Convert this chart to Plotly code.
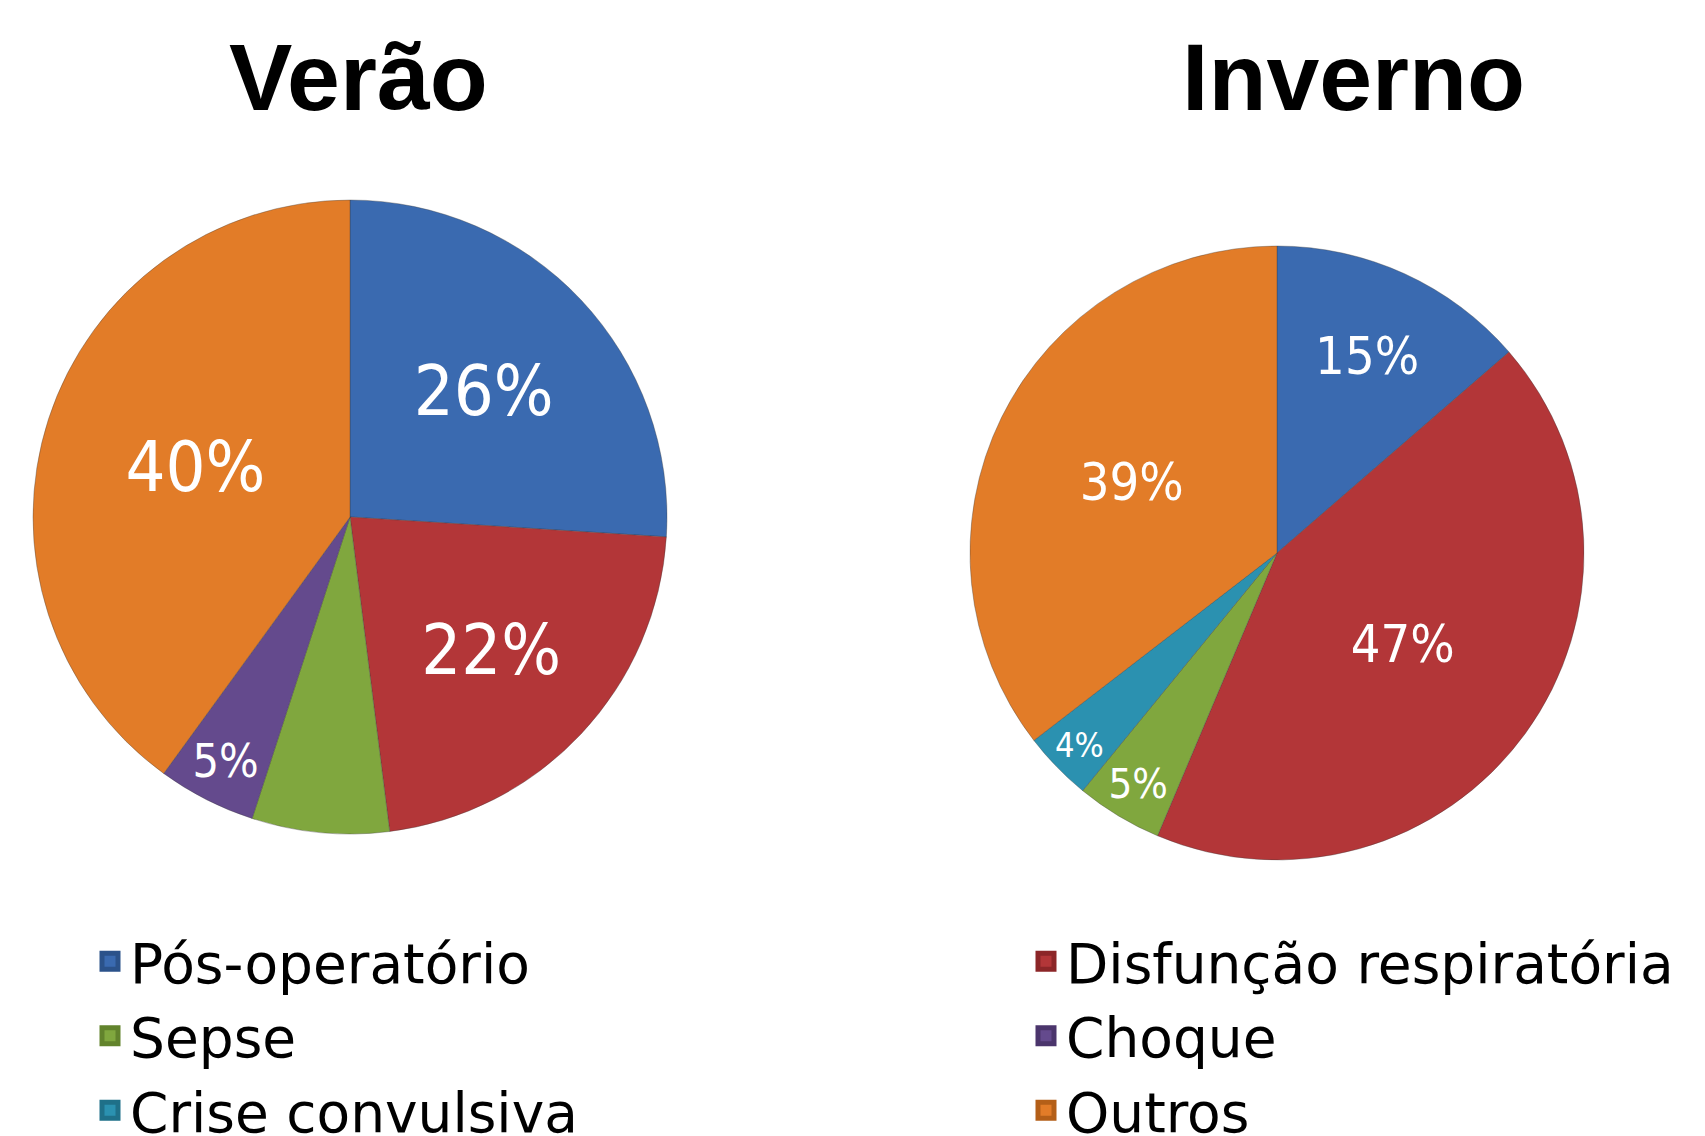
import plotly.graph_objects as go

# ---- data ----
categories = ["Pós-operatório", "Disfunção respiratória", "Sepse", "Choque", "Crise convulsiva", "Outros"]
colors = {"Pós-operatório": "#3A6AB0", "Disfunção respiratória": "#B33638", "Sepse": "#80A73E",
          "Choque": "#644A8D", "Crise convulsiva": "#2B91B0", "Outros": "#E27C28"}
edge_colors = {"Pós-operatório": "#2B528A", "Disfunção respiratória": "#8C2628", "Sepse": "#62832C",
               "Choque": "#4B356C", "Crise convulsiva": "#1F7089", "Outros": "#B45F18"}

verao_labels = ["Pós-operatório", "Disfunção respiratória", "Sepse", "Choque", "Outros"]
verao_values = [26, 22, 7, 5, 40]
verao_text = ["26%", "22%", "", "5%", "40%"]

inverno_labels = ["Pós-operatório", "Disfunção respiratória", "Sepse", "Crise convulsiva", "Outros"]
inverno_values = [15, 47, 5, 4, 39]
inverno_text = ["15%", "47%", "5%", "4%", "39%"]

legend_left = ["Pós-operatório", "Sepse", "Crise convulsiva"]
legend_right = ["Disfunção respiratória", "Choque", "Outros"]

W, H = 1705, 1136
LABEL_FONT = "DejaVu Sans Condensed, DejaVu Sans, sans-serif"
LEGEND_FONT = "DejaVu Sans, sans-serif"

fig = go.Figure()

line_col = "rgba(60,60,60,0.35)"

fig.add_trace(go.Pie(
    labels=verao_labels, values=verao_values, text=verao_text, textinfo="text",
    sort=False, direction="clockwise", rotation=0,
    marker=dict(colors=[colors[c] for c in verao_labels], line=dict(color=line_col, width=1)),
    textposition="inside", insidetextorientation="horizontal",
    textfont=dict(family=LABEL_FONT, size=70, color="white"),
    domain=dict(x=[25 / W, 659 / W], y=[1 - 826 / H, 1 - 192 / H]),
    showlegend=False, hoverinfo="label+value",
))

fig.add_trace(go.Pie(
    labels=inverno_labels, values=inverno_values, text=inverno_text, textinfo="text",
    sort=False, direction="clockwise", rotation=0,
    marker=dict(colors=[colors[c] for c in inverno_labels], line=dict(color=line_col, width=1)),
    textposition="inside", insidetextorientation="horizontal",
    textfont=dict(family=LABEL_FONT, size=52, color="white"),
    domain=dict(x=[962 / W, 1576 / W], y=[1 - 852 / H, 1 - 238 / H]),
    showlegend=False, hoverinfo="label+value",
))

# legend entries (two columns)
for lg, names in (("legend", legend_left), ("legend2", legend_right)):
    for name in names:
        fig.add_trace(go.Scatter(
            x=[None], y=[None], mode="markers", name=name, legend=lg, legendgroup=name,
            marker=dict(symbol="square", size=16, color=colors[name],
                        line=dict(color=edge_colors[name], width=5)),
            hoverinfo="skip",
        ))

legend_common = dict(
    font=dict(family=LEGEND_FONT, size=55, color="black"),
    orientation="v", yanchor="top", xanchor="left",
    bgcolor="rgba(0,0,0,0)", traceorder="grouped", tracegroupgap=0,
)

fig.update_layout(
    width=W, height=H,
    margin=dict(l=0, r=0, t=0, b=0, autoexpand=False),
    paper_bgcolor="white", plot_bgcolor="white",
    xaxis=dict(visible=False), yaxis=dict(visible=False),
    legend=dict(x=82 / W, y=1 - 911 / H, **legend_common),
    legend2=dict(x=1018 / W, y=1 - 911 / H, **legend_common),
    annotations=[
        dict(text="<b>Verão</b>", x=350 / W, y=1 - 69 / H, xref="paper", yref="paper",
             xanchor="center", yanchor="middle", showarrow=False,
             font=dict(family="Liberation Sans, Arial, sans-serif", size=95, color="black")),
        dict(text="<b>Inverno</b>", x=1345 / W, y=1 - 69 / H, xref="paper", yref="paper",
             xanchor="center", yanchor="middle", showarrow=False,
             font=dict(family="Liberation Sans, Arial, sans-serif", size=95, color="black")),
    ],
)

fig.write_html("out.html")
